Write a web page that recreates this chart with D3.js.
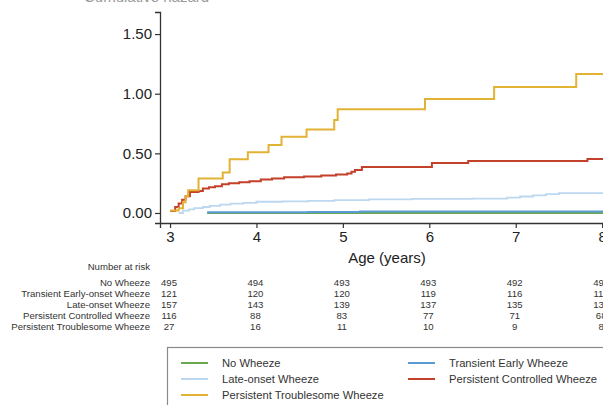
<!DOCTYPE html>
<html>
<head>
<meta charset="utf-8">
<script src="https://cdn.jsdelivr.net/npm/d3@7"></script>
<style>
  html, body { margin: 0; padding: 0; background: #fff; }
  svg { display: block; font-family: "Liberation Sans", Arial, sans-serif; }
</style>
</head>
<body>
<svg id="chart" width="603" height="405"></svg>
<script>
// Cumulative hazard step curves, one per wheeze phenotype: [age, value]
const noWheeze = [[3.43, 0.0], [8.6, 0.0]];
const transientEarly = [[3.43, 0.006], [4.6, 0.008], [5.2, 0.012], [8.6, 0.012]];
const lateOnset = [
  [3.10, 0.0], [3.15, 0.02], [3.22, 0.03], [3.28, 0.04], [3.38, 0.05], [3.46, 0.06],
  [3.58, 0.07], [3.70, 0.078], [3.85, 0.085], [4.0, 0.094], [4.3, 0.098], [4.6, 0.102],
  [4.9, 0.108], [5.3, 0.114], [5.8, 0.118], [6.5, 0.12], [6.9, 0.128], [7.05, 0.138],
  [7.2, 0.148], [7.35, 0.158], [7.5, 0.166], [8.6, 0.166]
];
const persistentControlled = [
  [3.00, 0.017], [3.06, 0.05], [3.10, 0.08], [3.14, 0.11], [3.18, 0.14], [3.23, 0.175],
  [3.33, 0.185], [3.38, 0.205], [3.45, 0.215], [3.52, 0.225], [3.60, 0.24], [3.68, 0.25],
  [3.80, 0.258], [3.92, 0.265], [4.05, 0.28], [4.18, 0.29], [4.32, 0.30], [4.55, 0.305],
  [4.75, 0.315], [4.92, 0.322], [5.05, 0.33], [5.10, 0.345], [5.14, 0.36], [5.22, 0.385],
  [6.03, 0.42], [6.45, 0.435], [7.83, 0.453], [8.6, 0.453]
];
const persistentTroublesome = [
  [3.00, 0.02], [3.10, 0.04], [3.15, 0.09], [3.18, 0.14], [3.21, 0.19], [3.33, 0.29],
  [3.61, 0.34], [3.69, 0.45], [3.90, 0.51], [4.14, 0.57], [4.29, 0.64], [4.58, 0.70],
  [4.90, 0.78], [4.94, 0.87], [5.95, 0.955], [6.75, 1.056], [7.70, 1.165], [8.6, 1.165]
];

// Axis ticks
const xTicks = [3, 4, 5, 6, 7, 8];
const yTicks = [0, 0.5, 1.0, 1.5];

// Number-at-risk table (ages 3..8)
const riskGroups = ["No Wheeze", "Transient Early-onset Wheeze", "Late-onset Wheeze",
                    "Persistent Controlled Wheeze", "Persistent Troublesome Wheeze"];
const riskNoWheeze = [495, 494, 493, 493, 492, 491];
const riskTransient = [121, 120, 120, 119, 116, 115];
const riskLate = [157, 143, 139, 137, 135, 133];
const riskControlled = [116, 88, 83, 77, 71, 68];
const riskTroublesome = [27, 16, 11, 10, 9, 8];

// Legend entries
const legendLabels = ["No Wheeze", "Transient Early Wheeze", "Late-onset Wheeze",
                      "Persistent Controlled Wheeze", "Persistent Troublesome Wheeze"];

const colors = {
  noWheeze: "#6aa84f",
  transient: "#5b9bd5",
  late: "#bcd8f0",
  controlled: "#c3402a",
  troublesome: "#e2b233"
};

const svg = d3.select("#chart");

const x = d3.scaleLinear().domain([2.884, 8.6]).range([160, 654]);
const y = d3.scaleLinear().domain([-0.084, 1.685]).range([223, 12]);

// Axis title at the very top edge
svg.append("text").attr("x", 84).attr("y", 1.5).attr("fill", "#999")
  .attr("font-size", 15).text("Cumulative hazard");

// Y axis
const yAxis = svg.append("g").attr("transform", "translate(160,0)")
  .call(d3.axisLeft(y).tickValues(yTicks).tickFormat(d3.format(".2f")).tickSize(5).tickPadding(3));
yAxis.select(".domain").attr("stroke", "#333").attr("stroke-width", 1.3);
yAxis.selectAll(".tick line").attr("stroke", "#333").attr("stroke-width", 1.2);
yAxis.selectAll(".tick text").attr("font-size", 15).attr("fill", "#222")
  .attr("font-family", "Liberation Sans, Arial, sans-serif");

// X axis
const xAxis = svg.append("g").attr("transform", "translate(0,223)")
  .call(d3.axisBottom(x).tickValues(xTicks).tickFormat(d3.format("d")).tickSize(5).tickPadding(3));
xAxis.select(".domain").attr("stroke", "#333").attr("stroke-width", 1.3);
xAxis.selectAll(".tick line").attr("stroke", "#333").attr("stroke-width", 1.2);
xAxis.selectAll(".tick text").attr("font-size", 15).attr("fill", "#222")
  .attr("font-family", "Liberation Sans, Arial, sans-serif");

svg.append("text").attr("x", 387).attr("y", 263).attr("text-anchor", "middle")
  .attr("font-size", 15).attr("fill", "#222").text("Age (years)");

// Step curves
const line = d3.line().x(d => x(d[0])).y(d => y(d[1])).curve(d3.curveStepAfter);
const series = [
  { data: lateOnset, color: colors.late, w: 1.8 },
  { data: noWheeze, color: colors.noWheeze, w: 2 },
  { data: transientEarly, color: colors.transient, w: 2 },
  { data: persistentControlled, color: colors.controlled, w: 2 },
  { data: persistentTroublesome, color: colors.troublesome, w: 2 }
];
svg.append("g").selectAll("path").data(series).join("path")
  .attr("d", d => line(d.data))
  .attr("fill", "none")
  .attr("stroke", d => d.color)
  .attr("stroke-width", d => d.w);

// Number at risk table
const riskRows = [riskNoWheeze, riskTransient, riskLate, riskControlled, riskTroublesome];
const table = svg.append("g").attr("font-size", 9.6).attr("fill", "#333");
table.append("text").attr("x", 150).attr("y", 270).attr("text-anchor", "end").text("Number at risk");
riskRows.forEach((row, i) => {
  const yy = 285.5 + i * 11;
  table.append("text").attr("x", 150).attr("y", yy).attr("text-anchor", "end").text(riskGroups[i]);
  table.selectAll(null).data(row).join("text")
    .attr("x", (d, j) => x(xTicks[j]) - 1)
    .attr("y", yy)
    .attr("text-anchor", "middle")
    .text(d => d);
});

// Legend
const legend = svg.append("g");
legend.append("rect").attr("x", 167.5).attr("y", 347.5).attr("width", 500).attr("height", 100)
  .attr("fill", "#fff").attr("stroke", "#8a8a8a").attr("stroke-width", 1.2);
const legendColors = [colors.noWheeze, colors.transient, colors.late, colors.controlled, colors.troublesome];
legendLabels.forEach((lab, i) => {
  const col = i % 2, row = Math.floor(i / 2);
  const lx = col === 0 ? 181 : 408;
  const ly = 363 + row * 16;
  legend.append("line").attr("x1", lx).attr("x2", lx + 27).attr("y1", ly).attr("y2", ly)
    .attr("stroke", legendColors[i]).attr("stroke-width", 2);
  legend.append("text").attr("x", lx + 41).attr("y", ly + 4)
    .attr("font-size", 11.2).attr("fill", "#333").text(lab);
});
</script>
</body>
</html>
